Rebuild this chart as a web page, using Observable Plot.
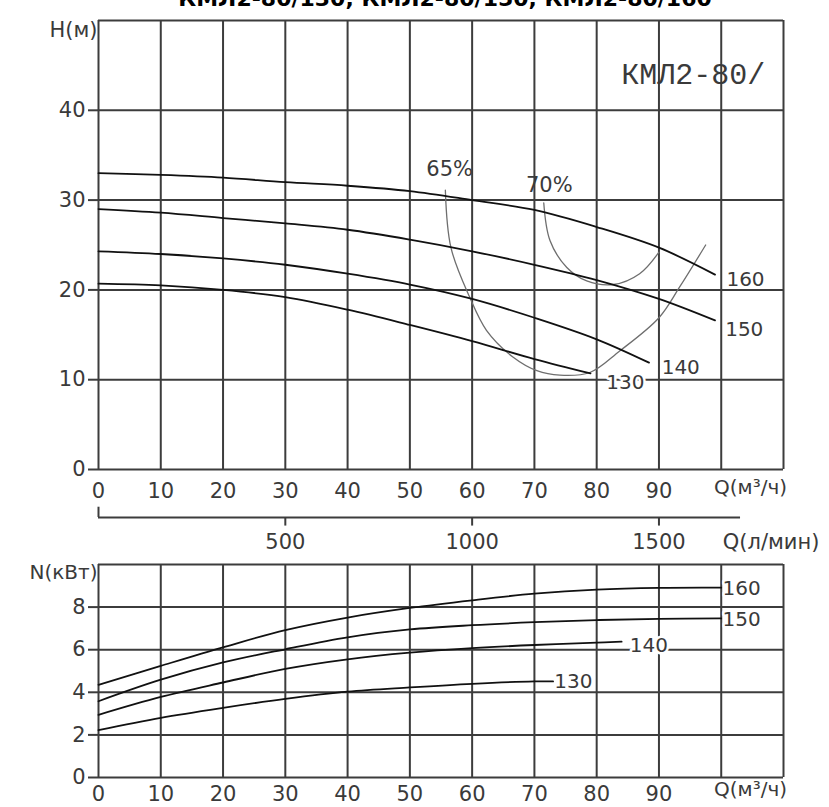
<!DOCTYPE html>
<html>
<head>
<meta charset="utf-8">
<script src="https://cdn.jsdelivr.net/npm/d3@7"></script>
<script src="https://cdn.jsdelivr.net/npm/@observablehq/plot@0.6"></script>
<style>
  html, body { margin: 0; padding: 0; background: #fff; width: 829px; height: 807px; overflow: hidden; }
  #wrap { position: relative; width: 829px; height: 807px; }
  #title { position: absolute; top: -14px; left: 445px; transform: translateX(-50%); white-space: nowrap;
           font: bold 22px "DejaVu Sans", sans-serif; color: #000; z-index: 2; }
  #topChart { position: absolute; left: 0; top: 0; }
  #bottomChart { position: absolute; left: 0; top: 555px; }
</style>
</head>
<body>
<div id="wrap">
  <div id="title">КМЛ2-80/130, КМЛ2-80/150, КМЛ2-80/160</div>
  <div id="topChart"></div>
  <div id="bottomChart"></div>
</div>
<script>
// ---------- data ----------
const qGrid = [0, 10, 20, 30, 40, 50, 60, 70, 80, 90, 100, 110];
const qTicks = [0, 10, 20, 30, 40, 50, 60, 70, 80, 90];
const hGrid = [0, 10, 20, 30, 40, 50];
const hTicks = [0, 10, 20, 30, 40];
const nGrid = [0, 2, 4, 6, 8, 10];
const nTicks = [0, 2, 4, 6, 8];
const lpmTicks = [500, 1000, 1500];

// head curves H(Q)
const q160 = [0, 10, 20, 30, 40, 50, 60, 70, 80, 90, 99];
const h160 = [33.0, 32.8, 32.5, 32.0, 31.6, 31.0, 30.0, 28.9, 27.0, 24.7, 21.7];
const q150 = [0, 10, 20, 30, 40, 50, 60, 70, 80, 90, 99];
const h150 = [29.0, 28.6, 28.0, 27.4, 26.7, 25.6, 24.3, 22.8, 21.1, 19.0, 16.6];
const q140 = [0, 10, 20, 30, 40, 50, 60, 70, 80, 88.4];
const h140 = [24.3, 24.0, 23.5, 22.8, 21.8, 20.6, 19.0, 16.9, 14.5, 11.9];
const q130 = [0, 10, 20, 30, 40, 50, 60, 70, 79];
const h130 = [20.7, 20.5, 20.0, 19.2, 17.8, 16.1, 14.3, 12.3, 10.7];

// efficiency curves
const qEff65 = [55.7, 56.6, 59.6, 62.3, 66.6, 70.4, 74.1, 78.9, 83.7, 90, 93.3, 97.5];
const hEff65 = [31.1, 24.7, 19.2, 15.5, 12.5, 11.0, 10.5, 10.8, 13.2, 16.9, 20.3, 25.0];
const qEff70 = [71.5, 72.5, 75.2, 78.4, 82.7, 86.9, 90];
const hEff70 = [29.7, 25.5, 22.5, 21.0, 20.6, 21.8, 24.2];

// power curves N(Q)
const qN160 = [0, 10, 20, 30, 40, 50, 60, 70, 80, 90, 100];
const n160 = [4.35, 5.24, 6.11, 6.92, 7.51, 7.96, 8.32, 8.63, 8.82, 8.90, 8.91];
const qN150 = [0, 10, 20, 30, 40, 50, 60, 70, 80, 90, 100];
const n150 = [3.58, 4.59, 5.40, 6.02, 6.58, 6.95, 7.15, 7.29, 7.39, 7.45, 7.47];
const qN140 = [0, 10, 20, 30, 40, 50, 60, 70, 80, 84];
const n140 = [2.94, 3.78, 4.46, 5.10, 5.55, 5.86, 6.07, 6.22, 6.33, 6.38];
const qN130 = [0, 10, 20, 30, 40, 50, 60, 70, 73];
const n130 = [2.22, 2.80, 3.27, 3.69, 4.03, 4.23, 4.40, 4.51, 4.51];

// labels (anchor points in data units)
const headLabels = [
  {text: "160", q: 103.9, h: 21.2},
  {text: "150", q: 103.7, h: 15.6},
  {text: "140", q: 93.5, h: 11.3},
  {text: "130", q: 84.6, h: 9.7}
];
const effLabels = [
  {text: "65%", q: 56.4, h: 33.4},
  {text: "70%", q: 72.4, h: 31.6}
];
const powerLabels = [
  {text: "160", q: 100.2, n: 8.87},
  {text: "150", q: 100.2, n: 7.42},
  {text: "140", q: 85.3, n: 6.2},
  {text: "130", q: 73.2, n: 4.51}
];
const modelLabel = [{text: "КМЛ2-80/", q: 95.5, h: 44.0}];
const qUnit = [{text: "Q(м³/ч)", q: 104.7}];
const lpmUnit = [{text: "Q(л/мин)", q: 108.0}];
const lpmAxis = {line: -5.35, up: -4.2, down: -6.3, label: -8.1, end: 103.1};

// ---------- build ----------
const toRows = (qs, vs, key, name) => qs.map((q, i) => ({q, [key]: vs[i], name}));
const headRows = [
  ...toRows(q160, h160, "h", "160"), ...toRows(q150, h150, "h", "150"),
  ...toRows(q140, h140, "h", "140"), ...toRows(q130, h130, "h", "130")
];
const effRows = [...toRows(qEff65, hEff65, "h", "65"), ...toRows(qEff70, hEff70, "h", "70")];
const powerRows = [
  ...toRows(qN160, n160, "n", "160"), ...toRows(qN150, n150, "n", "150"),
  ...toRows(qN140, n140, "n", "140"), ...toRows(qN130, n130, "n", "130")
];

const FONT = "DejaVu Sans";
const TXT = "#3a3a3a";
const GRID = "#3c3c3c";

const headChart = Plot.plot({
  width: 829, height: 555,
  marginLeft: 98, marginRight: 46, marginTop: 20, marginBottom: 86,
  x: {domain: [0, 110]},
  y: {domain: [0, 50]},
  style: {fontFamily: FONT, background: "white", overflow: "visible"},
  marks: [
    Plot.ruleX(qGrid, {stroke: GRID, strokeWidth: 2}),
    Plot.ruleY(hGrid, {stroke: GRID, strokeWidth: 2}),
    Plot.axisY(hTicks, {tickSize: 10, tickPadding: 3, fontSize: 21, fill: TXT, stroke: GRID, strokeWidth: 2, label: null}),
    Plot.axisX(qTicks, {tickSize: 0, tickPadding: 14, fontSize: 21, fill: TXT, label: null}),
    Plot.text(["H(м)"], {frameAnchor: "top-left", textAnchor: "end", dx: -1, dy: 2, fontSize: 21, fill: TXT}),
    Plot.text(qUnit, {x: "q", frameAnchor: "bottom", dy: 24, text: "text", fontSize: 20, fill: TXT}),
    // secondary flow axis (l/min)
    Plot.ruleY([{a: 0, b: lpmAxis.end, y: lpmAxis.line}], {x1: "a", x2: "b", y: "y", stroke: GRID, strokeWidth: 2}),
    Plot.ruleX([{x: 0, y1: lpmAxis.up, y2: lpmAxis.line}], {x: "x", y1: "y1", y2: "y2", stroke: GRID, strokeWidth: 2}),
    Plot.ruleX(lpmTicks.map(v => ({x: v * 60 / 1000, y1: lpmAxis.line, y2: lpmAxis.down})), {x: "x", y1: "y1", y2: "y2", stroke: GRID, strokeWidth: 2}),
    Plot.text(lpmTicks.map(v => ({x: v * 60 / 1000, t: String(v), y: lpmAxis.label})), {x: "x", y: "y", text: "t", fontSize: 21, fill: TXT}),
    Plot.text(lpmUnit.map(d => ({...d, y: lpmAxis.label})), {x: "q", y: "y", text: "text", fontSize: 21, fill: TXT}),
    // curves
    Plot.line(effRows, {x: "q", y: "h", z: "name", curve: "catmull-rom", stroke: "#6e6e6e", strokeWidth: 1.3}),
    Plot.line(headRows, {x: "q", y: "h", z: "name", curve: "catmull-rom", stroke: "#111", strokeWidth: 1.8}),
    Plot.text(headLabels, {x: "q", y: "h", text: "text", fontSize: 20, fill: TXT, stroke: "white", strokeWidth: 5, paintOrder: "stroke"}),
    Plot.text(effLabels, {x: "q", y: "h", text: "text", fontSize: 21, fill: TXT}),
    Plot.text(modelLabel, {x: "q", y: "h", text: "text", fontSize: 30, fontFamily: "Liberation Mono", fill: TXT})
  ]
});
document.getElementById("topChart").appendChild(headChart);

const powerChart = Plot.plot({
  width: 829, height: 252,
  marginLeft: 98, marginRight: 46, marginTop: 9, marginBottom: 30,
  x: {domain: [0, 110]},
  y: {domain: [0, 10]},
  style: {fontFamily: FONT, background: "white", overflow: "visible"},
  marks: [
    Plot.ruleX(qGrid, {stroke: GRID, strokeWidth: 2}),
    Plot.ruleY(nGrid, {stroke: GRID, strokeWidth: 2}),
    Plot.axisY(nTicks, {tickSize: 10, tickPadding: 3, fontSize: 21, fill: TXT, stroke: GRID, strokeWidth: 2, label: null}),
    Plot.axisX(qTicks, {tickSize: 0, tickPadding: 9, fontSize: 21, fill: TXT, label: null}),
    Plot.text(["N(кВт)"], {frameAnchor: "top-left", textAnchor: "end", dx: -1, dy: 0, fontSize: 20, fill: TXT}),
    Plot.text(qUnit, {x: "q", frameAnchor: "bottom", dy: 18, text: "text", fontSize: 20, fill: TXT}),
    Plot.line(powerRows, {x: "q", y: "n", z: "name", curve: "catmull-rom", stroke: "#111", strokeWidth: 1.8}),
    Plot.text(powerLabels, {x: "q", y: "n", text: "text", textAnchor: "start", fontSize: 20, fill: TXT, stroke: "white", strokeWidth: 5, paintOrder: "stroke"})
  ]
});
document.getElementById("bottomChart").appendChild(powerChart);
</script>
</body>
</html>
